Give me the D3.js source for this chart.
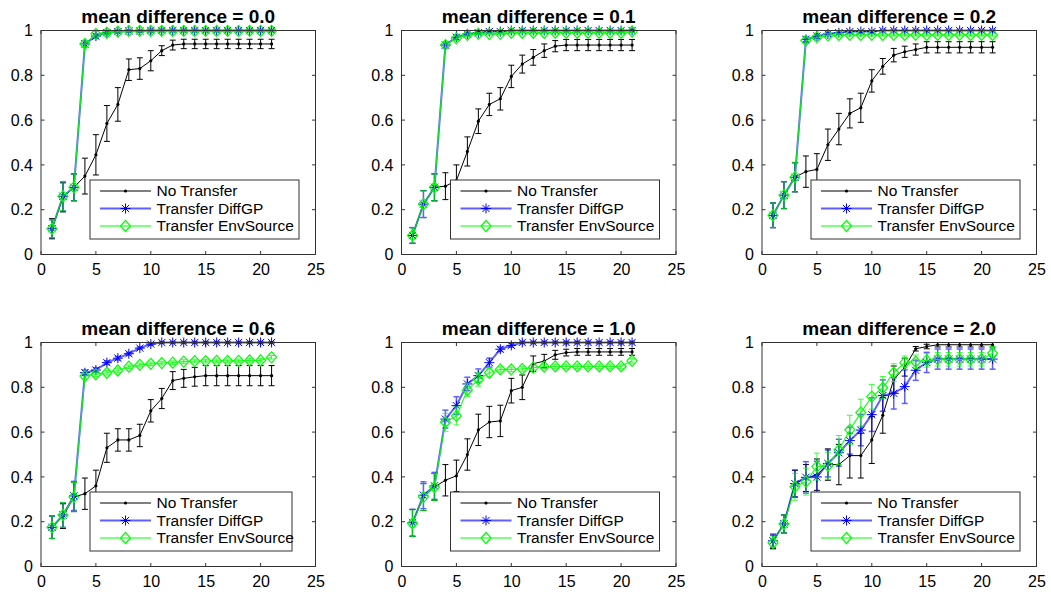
<!DOCTYPE html>
<html>
<head>
<meta charset="utf-8">
<script src="https://cdn.jsdelivr.net/npm/d3@7.9.0/dist/d3.min.js"></script>
<style>
  body { margin: 0; background: #fff; }
  svg { display: block; font-family: "Liberation Sans", Arial, sans-serif; }
</style>
</head>
<body>
<svg id="chart" width="1051" height="597"></svg>
<script>
// iterations on the x axis
const steps = [1,2,3,4,5,6,7,8,9,10,11,12,13,14,15,16,17,18,19,20,21];
const xTicks = [0, 5, 10, 15, 20, 25];
const yTicks = [0, 0.2, 0.4, 0.6, 0.8, 1];
const seriesNames = ['No Transfer', 'Transfer DiffGP', 'Transfer EnvSource'];
const titles = ['mean difference = 0.0', 'mean difference = 0.1', 'mean difference = 0.2',
                'mean difference = 0.6', 'mean difference = 1.0', 'mean difference = 2.0'];

// mean difference = 0.0
const none00 = [0.115,0.255,0.30,0.35,0.445,0.585,0.67,0.825,0.83,0.865,0.91,0.935,0.94,0.94,0.94,0.94,0.94,0.94,0.94,0.94,0.94];
const noneErr00 = [0.045,0.065,0.06,0.08,0.09,0.08,0.075,0.048,0.048,0.045,0.022,0.022,0.021,0.021,0.021,0.021,0.021,0.021,0.021,0.021,0.021];
const diff00 = [0.115,0.26,0.30,0.94,0.975,0.99,0.995,0.998,0.998,1,1,1,1,1,1,1,1,1,1,1,1];
const diffErr00 = [0.04,0.065,0.06,0.012,0.01,0.008,0.006,0.005,0.005,0.005,0.005,0.005,0.005,0.005,0.005,0.005,0.005,0.005,0.005,0.005,0.005];
const env00 = [0.115,0.26,0.30,0.94,0.985,0.99,0.995,0.998,0.998,0.998,0.998,0.998,0.998,0.998,0.998,0.998,0.998,0.998,0.998,0.998,0.998];
const envErr00 = [0.04,0.065,0.06,0.012,0.01,0.008,0.006,0.005,0.005,0.005,0.005,0.005,0.005,0.005,0.005,0.005,0.005,0.005,0.005,0.005,0.005];

// mean difference = 0.1
const none01 = [0.085,0.225,0.30,0.305,0.33,0.46,0.595,0.67,0.695,0.795,0.85,0.88,0.91,0.93,0.935,0.935,0.935,0.935,0.935,0.935,0.935];
const noneErr01 = [0.035,0.06,0.06,0.06,0.07,0.065,0.055,0.05,0.05,0.05,0.04,0.035,0.03,0.025,0.025,0.025,0.025,0.025,0.025,0.025,0.025];
const diff01 = [0.085,0.225,0.30,0.935,0.97,0.985,0.99,0.995,0.995,1,1,1,1,1,1,1,1,1,1,1,1];
const diffErr01 = [0.035,0.06,0.06,0.012,0.01,0.008,0.006,0.005,0.005,0.005,0.005,0.005,0.005,0.005,0.005,0.005,0.005,0.005,0.005,0.005,0.005];
const env01 = [0.085,0.225,0.30,0.935,0.965,0.98,0.985,0.985,0.985,0.99,0.99,0.99,0.99,0.99,0.99,0.99,0.99,0.99,0.99,0.99,0.995];
const envErr01 = [0.035,0.06,0.06,0.012,0.01,0.008,0.006,0.005,0.005,0.005,0.005,0.005,0.005,0.005,0.005,0.005,0.005,0.005,0.005,0.005,0.005];

// mean difference = 0.2
const none02 = [0.175,0.265,0.345,0.37,0.38,0.49,0.56,0.63,0.655,0.775,0.84,0.89,0.905,0.915,0.925,0.925,0.925,0.925,0.925,0.925,0.925];
const noneErr02 = [0.055,0.06,0.065,0.07,0.07,0.07,0.07,0.065,0.065,0.05,0.035,0.03,0.025,0.025,0.025,0.025,0.025,0.025,0.025,0.025,0.025];
const diff02 = [0.175,0.265,0.345,0.96,0.975,0.985,0.99,0.995,0.995,0.995,1,1,1,1,1,1,1,1,1,1,1];
const diffErr02 = [0.055,0.06,0.065,0.012,0.01,0.008,0.006,0.005,0.005,0.005,0.005,0.005,0.005,0.005,0.005,0.005,0.005,0.005,0.005,0.005,0.005];
const env02 = [0.175,0.265,0.345,0.955,0.97,0.978,0.98,0.98,0.98,0.98,0.98,0.98,0.98,0.98,0.98,0.98,0.98,0.98,0.98,0.98,0.98];
const envErr02 = [0.055,0.06,0.065,0.012,0.01,0.008,0.006,0.005,0.005,0.005,0.005,0.005,0.005,0.005,0.005,0.005,0.005,0.005,0.005,0.005,0.005];

// mean difference = 0.6
const none06 = [0.175,0.225,0.31,0.325,0.36,0.53,0.565,0.565,0.585,0.695,0.75,0.83,0.84,0.847,0.852,0.852,0.852,0.852,0.852,0.852,0.852];
const noneErr06 = [0.05,0.055,0.065,0.07,0.07,0.065,0.05,0.05,0.05,0.05,0.045,0.04,0.04,0.042,0.045,0.045,0.045,0.045,0.045,0.045,0.045];
const diff06 = [0.175,0.23,0.315,0.865,0.877,0.91,0.93,0.95,0.975,0.993,1,1,1,1,1,1,1,1,1,1,1];
const diffErr06 = [0.05,0.055,0.065,0.012,0.01,0.008,0.008,0.006,0.005,0.005,0.004,0.004,0.004,0.004,0.004,0.004,0.004,0.004,0.004,0.004,0.004];
const env06 = [0.175,0.23,0.31,0.85,0.858,0.865,0.875,0.892,0.9,0.905,0.908,0.91,0.915,0.917,0.917,0.918,0.918,0.918,0.92,0.92,0.934];
const envErr06 = [0.05,0.055,0.065,0.012,0.01,0.01,0.01,0.008,0.008,0.008,0.008,0.008,0.008,0.008,0.008,0.008,0.008,0.008,0.008,0.008,0.008];

// mean difference = 1.0
const none10 = [0.195,0.31,0.355,0.385,0.405,0.50,0.61,0.645,0.65,0.785,0.80,0.905,0.917,0.945,0.955,0.958,0.958,0.958,0.958,0.958,0.958];
const noneErr10 = [0.06,0.06,0.06,0.07,0.07,0.07,0.07,0.07,0.07,0.055,0.055,0.035,0.03,0.02,0.015,0.015,0.015,0.015,0.015,0.015,0.015];
const diff10 = [0.195,0.318,0.36,0.658,0.718,0.815,0.852,0.91,0.97,0.987,1,1,1,1,1,1,1,1,1,1,1];
const diffErr10 = [0.06,0.06,0.06,0.04,0.04,0.03,0.03,0.02,0.01,0.008,0.005,0.005,0.005,0.005,0.005,0.005,0.005,0.005,0.005,0.005,0.005];
const env10 = [0.193,0.31,0.355,0.644,0.672,0.788,0.835,0.865,0.88,0.88,0.882,0.888,0.892,0.893,0.893,0.893,0.893,0.893,0.893,0.893,0.918];
const envErr10 = [0.06,0.06,0.06,0.04,0.04,0.03,0.03,0.02,0.012,0.01,0.01,0.01,0.01,0.01,0.01,0.01,0.01,0.01,0.01,0.01,0.01];

// mean difference = 2.0
const none20 = [0.11,0.19,0.37,0.395,0.41,0.455,0.455,0.495,0.495,0.565,0.675,0.835,0.89,0.972,0.982,0.99,0.99,0.99,0.99,0.99,0.99];
const noneErr20 = [0.03,0.04,0.06,0.06,0.07,0.07,0.09,0.1,0.1,0.105,0.08,0.06,0.04,0.01,0.01,0.01,0.01,0.01,0.01,0.01,0.01];
const diff20 = [0.115,0.19,0.37,0.398,0.40,0.46,0.508,0.562,0.609,0.678,0.763,0.773,0.803,0.876,0.911,0.926,0.926,0.926,0.926,0.926,0.926];
const diffErr20 = [0.03,0.04,0.06,0.07,0.07,0.06,0.06,0.06,0.07,0.075,0.07,0.07,0.075,0.045,0.045,0.045,0.045,0.045,0.045,0.045,0.045];
const env20 = [0.106,0.19,0.356,0.379,0.446,0.45,0.52,0.61,0.687,0.758,0.798,0.865,0.91,0.914,0.92,0.925,0.925,0.925,0.925,0.925,0.952];
const envErr20 = [0.03,0.04,0.06,0.06,0.06,0.06,0.065,0.065,0.06,0.055,0.05,0.04,0.03,0.03,0.03,0.03,0.03,0.03,0.03,0.03,0.03];

const panelData = [
  [[none00, noneErr00], [diff00, diffErr00], [env00, envErr00]],
  [[none01, noneErr01], [diff01, diffErr01], [env01, envErr01]],
  [[none02, noneErr02], [diff02, diffErr02], [env02, envErr02]],
  [[none06, noneErr06], [diff06, diffErr06], [env06, envErr06]],
  [[none10, noneErr10], [diff10, diffErr10], [env10, envErr10]],
  [[none20, noneErr20], [diff20, diffErr20], [env20, envErr20]]
];

// layout of the 2x3 grid
const colLeft = [41, 401.5, 762];
const rowTop = [30.5, 342.5];
const plotW = 274.5, plotH = 224;
const legendW = [209, 209, 209, 202, 209, 209];

// line styles per series
const styles = [
  { color: '#000', width: 1, opacity: 1, marker: 'dot' },
  { color: '#0000ff', width: 2, opacity: 0.62, marker: 'star' },
  { color: '#00ff00', width: 1.2, opacity: 0.85, marker: 'diamond' }
];

const svg = d3.select('#chart');
svg.append('rect').attr('width', 1051).attr('height', 597).attr('fill', '#fff');

function drawMarker(g, type, cx, cy) {
  if (type === 'dot') {
    g.append('circle').attr('cx', cx).attr('cy', cy).attr('r', 1.6).attr('fill', '#000');
  } else if (type === 'star') {
    const r = 5, d = 3.6;
    const p = `M${cx - r},${cy}H${cx + r}M${cx},${cy - r}V${cy + r}` +
      `M${cx - d},${cy - d}L${cx + d},${cy + d}M${cx - d},${cy + d}L${cx + d},${cy - d}`;
    g.append('path').attr('d', p).attr('stroke', '#0000ff').attr('stroke-width', 1).attr('fill', 'none');
  } else {
    const w = 5, h = 5.5;
    g.append('path')
      .attr('d', `M${cx},${cy - h}L${cx + w},${cy}L${cx},${cy + h}L${cx - w},${cy}Z`)
      .attr('stroke', '#00ff00').attr('stroke-width', 1.2).attr('fill', 'none');
  }
}

panelData.forEach((series, i) => {
  const left = colLeft[i % 3];
  const top = rowTop[Math.floor(i / 3)];
  const x = d3.scaleLinear().domain([0, 25]).range([left, left + plotW]);
  const y = d3.scaleLinear().domain([0, 1]).range([top + plotH, top]);
  const g = svg.append('g');

  // axes: tick labels via d3 axes, ticks drawn inward
  const xAxis = g.append('g').attr('transform', `translate(0,${top + plotH})`)
    .call(d3.axisBottom(x).tickValues(xTicks).tickSize(0).tickPadding(9).tickFormat(d3.format('d')));
  const yAxis = g.append('g').attr('transform', `translate(${left},0)`)
    .call(d3.axisLeft(y).tickValues(yTicks).tickSize(0).tickPadding(8).tickFormat(d => d === 0 || d === 1 ? d : d3.format('.1f')(d)));
  [xAxis, yAxis].forEach(a => {
    a.select('.domain').remove();
    a.selectAll('text').attr('font-size', 16).attr('fill', '#000').attr('font-family', '"Liberation Sans", Arial, sans-serif');
  });

  const tickLen = 3.5;
  xTicks.forEach(t => {
    g.append('line').attr('x1', x(t)).attr('x2', x(t)).attr('y1', top + plotH).attr('y2', top + plotH - tickLen).attr('stroke', '#333');
    g.append('line').attr('x1', x(t)).attr('x2', x(t)).attr('y1', top).attr('y2', top + tickLen).attr('stroke', '#333');
  });
  yTicks.forEach(t => {
    g.append('line').attr('x1', left).attr('x2', left + tickLen).attr('y1', y(t)).attr('y2', y(t)).attr('stroke', '#333');
    g.append('line').attr('x1', left + plotW).attr('x2', left + plotW - tickLen).attr('y1', y(t)).attr('y2', y(t)).attr('stroke', '#333');
  });

  // series: line, error bars, markers
  series.forEach(([vals, errs], s) => {
    const st = styles[s];
    const line = d3.line().x((d, k) => x(steps[k])).y(d => y(d));
    const sg = g.append('g');
    const eg = sg.append('g').attr('stroke', st.color).attr('stroke-width', s === 0 ? 1 : st.width * 0.75).attr('opacity', st.opacity);
    vals.forEach((v, k) => {
      const cx = x(steps[k]);
      const y0 = y(v - errs[k]), y1 = y(Math.min(v + errs[k], 1.02));
      eg.append('line').attr('x1', cx).attr('x2', cx).attr('y1', y0).attr('y2', y1);
      eg.append('line').attr('x1', cx - 3).attr('x2', cx + 3).attr('y1', y0).attr('y2', y0);
      eg.append('line').attr('x1', cx - 3).attr('x2', cx + 3).attr('y1', y1).attr('y2', y1);
    });
    sg.append('path').datum(vals).attr('d', line).attr('fill', 'none')
      .attr('stroke', st.color).attr('stroke-width', st.width).attr('opacity', st.opacity);
    vals.forEach((v, k) => drawMarker(sg, st.marker, x(steps[k]), y(v)));
  });

  // axes box
  g.append('rect').attr('x', left).attr('y', top).attr('width', plotW).attr('height', plotH)
    .attr('fill', 'none').attr('stroke', '#333').attr('stroke-width', 1);

  // title
  g.append('text').attr('x', left + plotW / 2).attr('y', top - 8)
    .attr('text-anchor', 'middle').attr('font-size', 19).attr('font-weight', 'bold').text(titles[i]);

  // legend
  const lx = left + 49, lw = legendW[i], lh = 59;
  const ly = top + plotH - 15.5 - lh;
  const lg = g.append('g');
  lg.append('rect').attr('x', lx).attr('y', ly).attr('width', lw).attr('height', lh)
    .attr('fill', '#fff').attr('stroke', '#333').attr('stroke-width', 1);
  seriesNames.forEach((name, s) => {
    const st = styles[s];
    const ry = ly + 11 + s * 17.5;
    lg.append('line').attr('x1', lx + 10).attr('x2', lx + 61).attr('y1', ry).attr('y2', ry)
      .attr('stroke', st.color).attr('stroke-width', st.width).attr('opacity', s === 2 ? 1 : st.opacity);
    drawMarker(lg, st.marker, lx + 35.5, ry);
    lg.append('text').attr('x', lx + 66.5).attr('y', ry).attr('dy', '0.35em')
      .attr('font-size', 15.5).text(name);
  });
});
</script>
</body>
</html>
